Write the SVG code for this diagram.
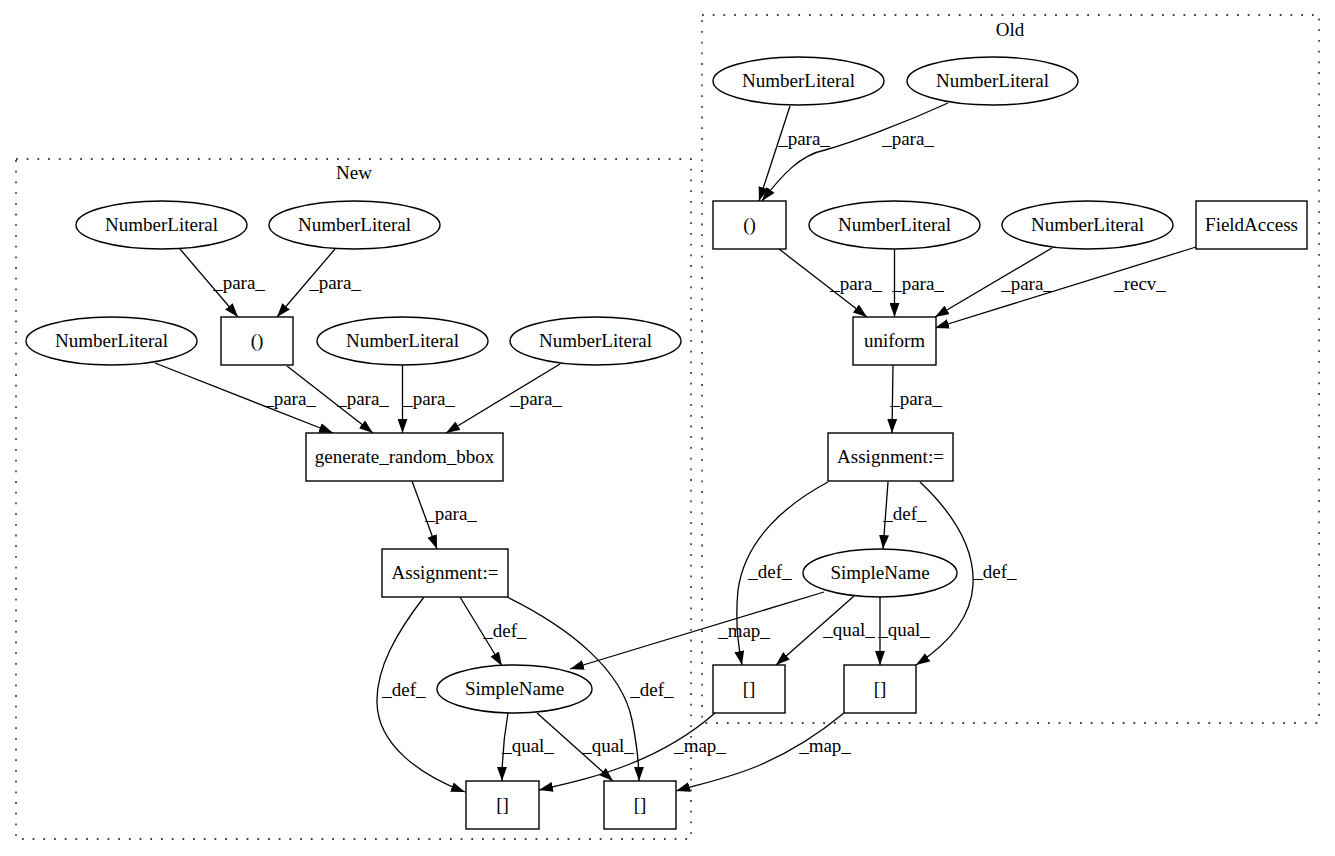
<svg xmlns="http://www.w3.org/2000/svg" width="1335" height="856" viewBox="0 0 1335 856" font-family="'Liberation Serif', 'Times New Roman', Times, serif" font-size="19">
<style>
text{font-family:'Liberation Serif','Times New Roman',Times,serif;font-size:19px;fill:#000;text-anchor:middle}
.n{fill:#fff;stroke:#000;stroke-width:1.4}
.c{fill:none;stroke:#000;stroke-width:1.3;stroke-dasharray:1.8,8.9}
.e{fill:none;stroke:#000;stroke-width:1.3;marker-end:url(#a)}
</style>
<defs>
<marker id="a" markerUnits="userSpaceOnUse" markerWidth="14" markerHeight="10" refX="13.3" refY="4.7" orient="auto" viewBox="0 0 13.3 9.4"><path d="M0,0 L13.3,4.7 L0,9.4 z" fill="#000"/></marker>
</defs>
<rect width="1335" height="856" fill="#fff"/>
<g id="cluster_new"><rect class="c" x="16" y="159" width="675" height="680"/><text x="354" y="179">New</text></g>
<g id="cluster_old"><rect class="c" x="702" y="15" width="617" height="708"/><text x="1010" y="36">Old</text></g>

<g id="edges">
<path class="e" d="M180,249 L238,317"/>
<path class="e" d="M335,249 L277,317"/>
<path class="e" d="M155,363 L333,433"/>
<path class="e" d="M287,366 L373,433"/>
<path class="e" d="M402.5,365 L402.5,433"/>
<path class="e" d="M560,364 L446,433"/>
<path class="e" d="M412,481 L437,549"/>
<path class="e" d="M460,597 L502,666"/>
<path class="e" d="M424,597 C397,632 376,668 377,703 C378,745 420,775 465,792"/>
<path class="e" d="M507,597 C570,628 622,670 632,720 C637,745 639,760 639,781"/>
<path class="e" d="M508,713 C505,730 502,752 502,781"/>
<path class="e" d="M537,713 L613,781"/>

<path class="e" d="M790,106 L759,201"/>
<path class="e" d="M948,103 C900,125 850,143 825,150 C800,155 782,175 762,201"/>
<path class="e" d="M779,249 L867,317"/>
<path class="e" d="M894.5,249 L894.5,317"/>
<path class="e" d="M1052,248 L935,317"/>
<path class="e" d="M1196,247 L935,328"/>
<path class="e" d="M893,365 L892,433"/>
<path class="e" d="M888,482 L883,549"/>
<path class="e" d="M828,482 C785,505 745,540 738,590 C735,620 738,645 742,665"/>
<path class="e" d="M920,482 C955,515 975,550 973,585 C971,620 945,646 916,665"/>
<path class="e" d="M854,596 L776,665"/>
<path class="e" d="M880,597 L880,665"/>

<path class="e" d="M824,592 L570,669"/>
<path class="e" d="M715,713 C690,735 660,752 630,764 C600,776 570,783 539,790"/>
<path class="e" d="M844,713 C820,733 790,752 760,765 C730,778 700,784 676,791"/>

<text x="239" y="289">_para_</text>
<text x="335" y="289">_para_</text>
<text x="290" y="405">_para_</text>
<text x="363" y="405">_para_</text>
<text x="429" y="405">_para_</text>
<text x="536" y="405">_para_</text>
<text x="451" y="520">_para_</text>
<text x="505" y="637">_def_</text>
<text x="404" y="696">_def_</text>
<text x="652" y="696">_def_</text>
<text x="528" y="752">_qual_</text>
<text x="608" y="752">_qual_</text>
<text x="744" y="637">_map_</text>
<text x="700" y="752">_map_</text>
<text x="825" y="752">_map_</text>

<text x="804" y="145">_para_</text>
<text x="908" y="145">_para_</text>
<text x="856" y="290">_para_</text>
<text x="918" y="290">_para_</text>
<text x="1027" y="290">_para_</text>
<text x="1140" y="290">_recv_</text>
<text x="916" y="405">_para_</text>
<text x="905" y="520">_def_</text>
<text x="770" y="578">_def_</text>
<text x="995" y="578">_def_</text>
<text x="849" y="636">_qual_</text>
<text x="904" y="636">_qual_</text>
</g>

<g id="nl_n1"><ellipse class="n" cx="161.5" cy="225" rx="85.5" ry="24"/><text x="161.5" y="231">NumberLiteral</text></g>
<g id="nl_n2"><ellipse class="n" cx="354.5" cy="225" rx="85.5" ry="24"/><text x="354.5" y="231">NumberLiteral</text></g>
<g id="paren_n"><rect class="n" x="221" y="317" width="72" height="48"/><text x="257" y="347">()</text></g>
<g id="nl_n3"><ellipse class="n" cx="111.5" cy="341" rx="85.5" ry="24"/><text x="111.5" y="347">NumberLiteral</text></g>
<g id="nl_n4"><ellipse class="n" cx="402.5" cy="341" rx="85.5" ry="24"/><text x="402.5" y="347">NumberLiteral</text></g>
<g id="nl_n5"><ellipse class="n" cx="595.5" cy="341" rx="85.5" ry="24"/><text x="595.5" y="347">NumberLiteral</text></g>
<g id="gen_n"><rect class="n" x="306" y="433" width="197" height="48"/><text x="404.5" y="463">generate_random_bbox</text></g>
<g id="assign_n"><rect class="n" x="382" y="549" width="126" height="48"/><text x="445" y="579">Assignment:=</text></g>
<g id="sn_n"><ellipse class="n" cx="514.5" cy="689" rx="77.5" ry="24"/><text x="514.5" y="695">SimpleName</text></g>
<g id="idx_n1"><rect class="n" x="466" y="781" width="73" height="48"/><text x="502.5" y="811">[]</text></g>
<g id="idx_n2"><rect class="n" x="604" y="781" width="72" height="48"/><text x="640" y="811">[]</text></g>

<g id="nl_o1"><ellipse class="n" cx="798.5" cy="81" rx="85.5" ry="24"/><text x="798.5" y="87">NumberLiteral</text></g>
<g id="nl_o2"><ellipse class="n" cx="992.5" cy="81" rx="85.5" ry="24"/><text x="992.5" y="87">NumberLiteral</text></g>
<g id="paren_o"><rect class="n" x="713" y="201" width="73" height="48"/><text x="749.5" y="231">()</text></g>
<g id="nl_o3"><ellipse class="n" cx="894.5" cy="225" rx="85.5" ry="24"/><text x="894.5" y="231">NumberLiteral</text></g>
<g id="nl_o4"><ellipse class="n" cx="1087.5" cy="225" rx="85.5" ry="24"/><text x="1087.5" y="231">NumberLiteral</text></g>
<g id="fa_o"><rect class="n" x="1196" y="201" width="111" height="48"/><text x="1251.5" y="231">FieldAccess</text></g>
<g id="uniform_o"><rect class="n" x="853" y="317" width="83" height="48"/><text x="894.5" y="347">uniform</text></g>
<g id="assign_o"><rect class="n" x="828" y="433" width="125" height="48"/><text x="890.5" y="463">Assignment:=</text></g>
<g id="sn_o"><ellipse class="n" cx="880" cy="573" rx="77" ry="24"/><text x="880" y="579">SimpleName</text></g>
<g id="idx_o1"><rect class="n" x="713" y="665" width="72" height="48"/><text x="749" y="695">[]</text></g>
<g id="idx_o2"><rect class="n" x="844" y="665" width="72" height="48"/><text x="880" y="695">[]</text></g>
</svg>
